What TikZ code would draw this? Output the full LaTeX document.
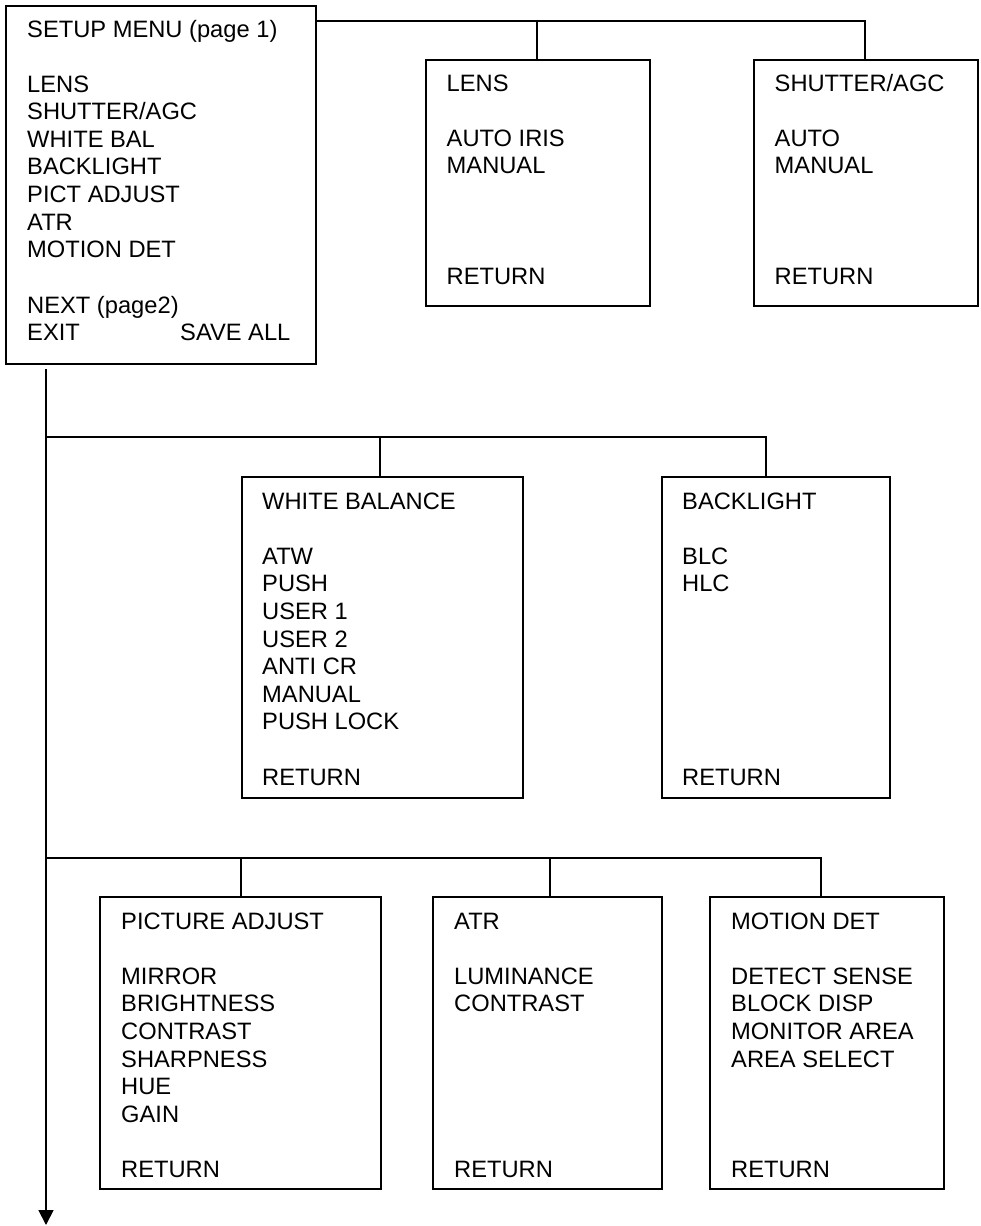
\documentclass[tikz,border=0pt]{standalone}
\usepackage{fontspec}
\setmainfont{Liberation Sans}
\usetikzlibrary{arrows.meta,calc}
\begin{document}
\begin{tikzpicture}[x=1pt,y=-1pt,
  menubox/.style={draw=black, line width=1.8pt, inner sep=0pt, anchor=north west},
  menutext/.style={inner sep=0pt, anchor=base west, font=\fontsize{23.7}{27.6}\selectfont},
  link/.style={draw=black, line width=1.8pt},
  trunkarrow/.style={link, -{Triangle[width=15pt,length=15pt]}},
]
\useasboundingbox (0,0) rectangle (981,1226);

% ---------- boxes ----------
\node[menubox, minimum width=310pt, minimum height=358pt] (setup) at (5,5) {};
\node[menubox, minimum width=224pt, minimum height=246pt] (lens) at (425,59) {};
\node[menubox, minimum width=224pt, minimum height=246pt] (shutter) at (753,59) {};
\node[menubox, minimum width=281pt, minimum height=321pt] (wb) at (241,476) {};
\node[menubox, minimum width=228pt, minimum height=321pt] (bl) at (661,476) {};
\node[menubox, minimum width=281pt, minimum height=292pt] (pa) at (99,896) {};
\node[menubox, minimum width=229pt, minimum height=292pt] (atr) at (432,896) {};
\node[menubox, minimum width=234pt, minimum height=292pt] (md) at (709,896) {};

% ---------- texts ----------
\node[menutext] (setupT) at ($(setup.north west)+(22,32)$) {\begin{tabular}[t]{@{}l@{}}SETUP MENU (page 1)\\ \\ LENS\\ SHUTTER/AGC\\ WHITE BAL\\ BACKLIGHT\\ PICT ADJUST\\ ATR\\ MOTION DET\\ \\ NEXT (page2)\\ \makebox[153pt][l]{EXIT}SAVE ALL\end{tabular}};
\node[menutext] (lensT) at ($(lens.north west)+(21.5,32)$) {\begin{tabular}[t]{@{}l@{}}LENS\\ \\ AUTO IRIS\\ MANUAL\\ \\ \\ \\ RETURN\end{tabular}};
\node[menutext] (shutterT) at ($(shutter.north west)+(21.5,32)$) {\begin{tabular}[t]{@{}l@{}}SHUTTER/AGC\\ \\ AUTO\\ MANUAL\\ \\ \\ \\ RETURN\end{tabular}};
\node[menutext] (wbT) at ($(wb.north west)+(21,33)$) {\begin{tabular}[t]{@{}l@{}}WHITE BALANCE\\ \\ ATW\\ PUSH\\ USER 1\\ USER 2\\ ANTI CR\\ MANUAL\\ PUSH LOCK\\ \\ RETURN\end{tabular}};
\node[menutext] (blT) at ($(bl.north west)+(21,33)$) {\begin{tabular}[t]{@{}l@{}}BACKLIGHT\\ \\ BLC\\ HLC\\ \\ \\ \\ \\ \\ \\ RETURN\end{tabular}};
\node[menutext] (paT) at ($(pa.north west)+(22,33)$) {\begin{tabular}[t]{@{}l@{}}PICTURE ADJUST\\ \\ MIRROR\\ BRIGHTNESS\\ CONTRAST\\ SHARPNESS\\ HUE\\ GAIN\\ \\ RETURN\end{tabular}};
\node[menutext] (atrT) at ($(atr.north west)+(22,33)$) {\begin{tabular}[t]{@{}l@{}}ATR\\ \\ LUMINANCE\\ CONTRAST\\ \\ \\ \\ \\ \\ RETURN\end{tabular}};
\node[menutext] (mdT) at ($(md.north west)+(22,33)$) {\begin{tabular}[t]{@{}l@{}}MOTION DET\\ \\ DETECT SENSE\\ BLOCK DISP\\ MONITOR AREA\\ AREA SELECT\\ \\ \\ \\ RETURN\end{tabular}};

% ---------- junction coordinates ----------
\coordinate (top0) at (315,21);
\coordinate (dLens) at (537,21);
\coordinate (dShut) at (865,21);
\coordinate (t0) at (46,369);
\coordinate (tEnd) at (46,1225);
\coordinate (b1) at (46,437);
\coordinate (dWb) at (380,437);
\coordinate (dBl) at (766,437);
\coordinate (b2) at (46,858);
\coordinate (dPa) at (241,858);
\coordinate (dAtr) at (550,858);
\coordinate (dMd) at (821,858);

% ---------- connectors ----------
\draw[link] (top0) -- (dShut) -- (dShut |- shutter.north);
\draw[link] (dLens) -- (dLens |- lens.north);
\draw[trunkarrow] (t0) -- (tEnd);
\draw[link] (b1) -- (dBl) -- (dBl |- bl.north);
\draw[link] (dWb) -- (dWb |- wb.north);
\draw[link] (b2) -- (dMd) -- (dMd |- md.north);
\draw[link] (dPa) -- (dPa |- pa.north);
\draw[link] (dAtr) -- (dAtr |- atr.north);
\end{tikzpicture}
\end{document}
